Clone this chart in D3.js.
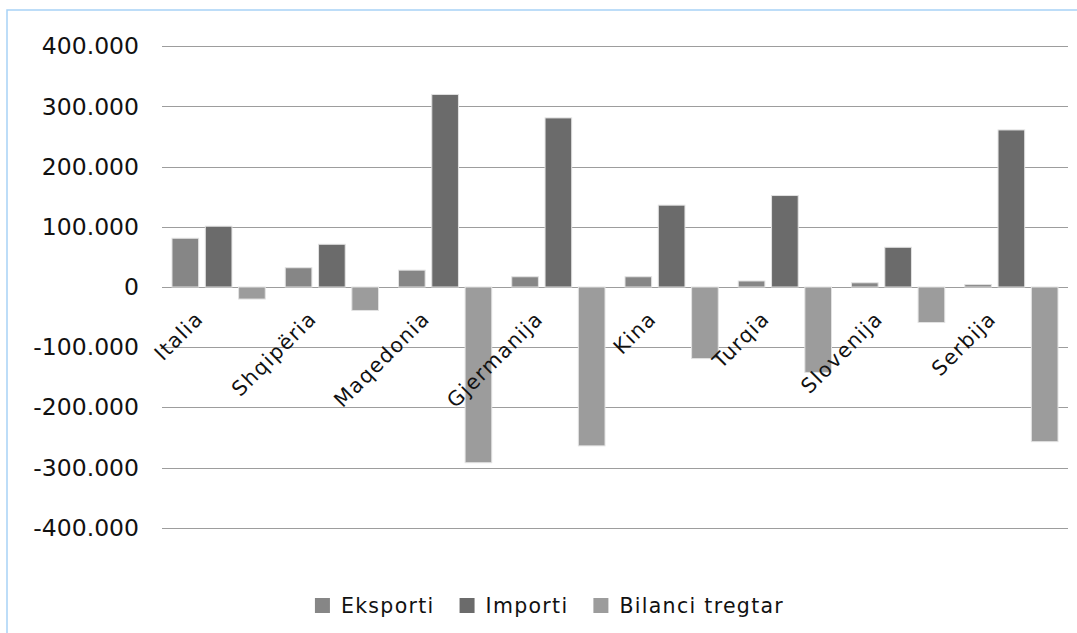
<!DOCTYPE html>
<html>
<head>
<meta charset="utf-8">
<script src="https://cdn.jsdelivr.net/npm/d3@7"></script>
<style>
  body { margin: 0; background: #fff; }
  svg { display: block; font-family: "DejaVu Sans", Verdana, sans-serif; }
</style>
</head>
<body>
<div id="chart"></div>
<script>
// Data
const countries = ["Italia", "Shqipëria", "Maqedonia", "Gjermanija", "Kina", "Turqia", "Slovenija", "Serbija"];
const seriesNames = ["Eksporti", "Importi", "Bilanci tregtar"];
const eksporti = [81000, 32000, 28000, 17000, 17000, 10000, 7000, 4000];
const importi = [101000, 71000, 320000, 281000, 136000, 152000, 66000, 261000];
const bilanci = [-20000, -39000, -292000, -264000, -119000, -142000, -59000, -257000];
const yTicks = [-400000, -300000, -200000, -100000, 0, 100000, 200000, 300000, 400000];

const seriesColors = ["#868686", "#6b6b6b", "#9c9c9c"];
const allSeries = [eksporti, importi, bilanci];

// Set props
var width = 1077, height = 633;
var plot = {left: 162, right: 1068, top: 46.3, bottom: 527.7};

var svg = d3.select("#chart").append("svg")
    .attr("width", width)
    .attr("height", height);

// Outer chart border (light blue)
svg.append("rect")
    .attr("x", 7).attr("y", 10)
    .attr("width", 1090).attr("height", 660)
    .attr("fill", "none")
    .attr("stroke", "#a8d2f6")
    .attr("stroke-width", 1.5);

var x0 = d3.scaleBand()
    .domain(countries)
    .range([plot.left, plot.right]);

var x1 = d3.scaleBand()
    .domain(seriesNames)
    .range([0, x0.bandwidth()])
    .paddingInner(0.2)
    .paddingOuter(0.3);

var y = d3.scaleLinear()
    .domain([-400000, 400000])
    .range([plot.bottom, plot.top]);

var locale = d3.formatLocale({decimal: ",", thousands: ".", grouping: [3], currency: ["", ""], minus: "-"});
var fmt = locale.format(",d");

// Gridlines
svg.append("g")
    .selectAll("line")
    .data(yTicks)
    .enter().append("line")
    .attr("x1", plot.left).attr("x2", plot.right)
    .attr("y1", function(d) { return Math.round(y(d)) + 0.5; })
    .attr("y2", function(d) { return Math.round(y(d)) + 0.5; })
    .attr("stroke", "#9d9d9d")
    .attr("stroke-width", 1);

// Y axis labels
var yAxis = d3.axisLeft(y)
    .tickValues(yTicks)
    .tickFormat(fmt)
    .tickSize(0)
    .tickPadding(0);

var yg = svg.append("g")
    .attr("transform", "translate(139,0)")
    .call(yAxis);
yg.select(".domain").remove();
yg.selectAll("text")
    .attr("font-family", "DejaVu Sans, Verdana, sans-serif")
    .attr("font-size", 23.5)
    .attr("fill", "#111");

// Bars
var rows = [];
countries.forEach(function(c, i) {
    seriesNames.forEach(function(s, j) {
        rows.push({country: c, series: s, value: allSeries[j][i], color: seriesColors[j]});
    });
});

svg.append("g")
    .selectAll("rect")
    .data(rows)
    .enter().append("rect")
    .attr("x", function(d) { return x0(d.country) + x1(d.series); })
    .attr("width", x1.bandwidth())
    .attr("y", function(d) { return y(Math.max(0, d.value)); })
    .attr("height", function(d) { return Math.abs(y(d.value) - y(0)); })
    .attr("fill", function(d) { return d.color; })
    .attr("stroke", "#e2e2e2")
    .attr("stroke-width", 1);

// Category labels (rotated, drawn over the bars)
svg.append("g")
    .selectAll("text")
    .data(countries)
    .enter().append("text")
    .attr("transform", function(d) {
        var cx = x0(d) + x0.bandwidth() / 2;
        return "translate(" + (cx - 14) + ",320)rotate(-45)";
    })
    .attr("text-anchor", "end")
    .attr("font-size", 20.5)
    .attr("letter-spacing", 1.4)
    .attr("fill", "#111")
    .text(function(d) { return d; });

// Legend
var legend = svg.append("g").attr("transform", "translate(0,598)");
var items = legend.selectAll("g")
    .data(seriesNames)
    .enter().append("g");

items.append("rect")
    .attr("width", 15).attr("height", 15)
    .attr("fill", function(d, i) { return seriesColors[i]; });

items.append("text")
    .attr("x", 26)
    .attr("y", 15)
    .attr("font-size", 20.5)
    .attr("letter-spacing", 1.3)
    .attr("fill", "#111")
    .text(function(d) { return d; });

// lay items out one after another and center them
var offsets = [], pos = 0;
items.each(function() {
    var w = 26 + d3.select(this).select("text").node().getComputedTextLength();
    offsets.push(pos);
    pos += w + 25;
});
var total = pos - 25;
var startX = 549.5 - total / 2;
items.attr("transform", function(d, i) { return "translate(" + (startX + offsets[i]) + ",0)"; });
</script>
</body>
</html>
